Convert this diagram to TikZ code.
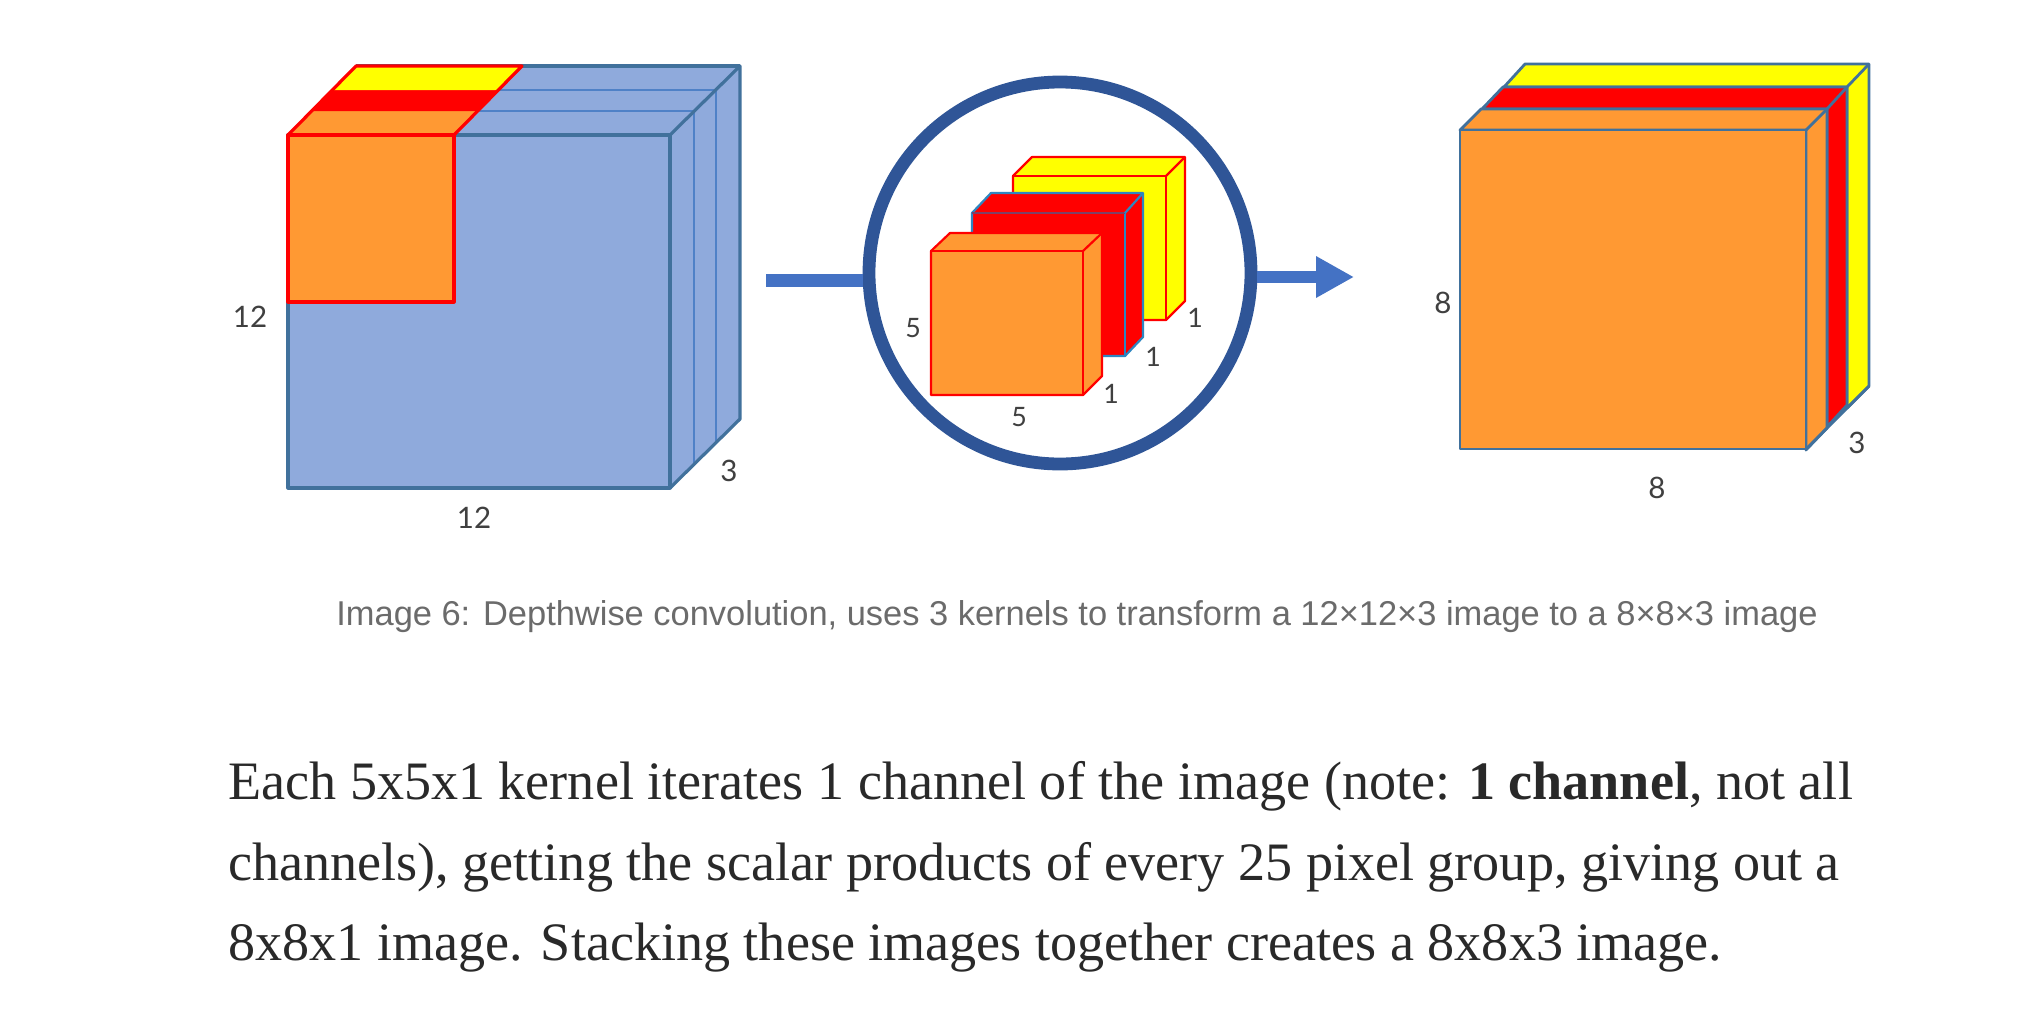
\documentclass[tikz,border=0pt]{standalone}
\usepackage{fontspec}
\setmainfont{Liberation Serif}
\setsansfont{Lato}
\newfontfamily\capfont{Liberation Sans}
\usepackage{xcolor}
\usepackage{tikz}
\usetikzlibrary{arrows.meta,positioning,calc}

\definecolor{cubeblue}{HTML}{8FAADC}
\definecolor{edgeblue}{HTML}{41719C}
\definecolor{layerblue}{HTML}{4F81C7}
\definecolor{kernorange}{HTML}{FF9933}
\definecolor{kernred}{HTML}{FF0000}
\definecolor{kernyellow}{HTML}{FFFF00}
\definecolor{kernedge}{HTML}{2E86C1}
\definecolor{kernseam}{HTML}{7F4066}
\definecolor{ringblue}{HTML}{2F5597}
\definecolor{arrowblue}{HTML}{4472C4}
\definecolor{bodyink}{HTML}{292929}
\definecolor{capink}{HTML}{6B6B6B}

\tikzset{
  dimlabel/.style={font=\sffamily\fontsize{21}{21}\selectfont, text=black!75, inner sep=0pt},
  smalldim/.style={dimlabel, font=\sffamily\fontsize{19}{19}\selectfont},
  capline/.style={font=\capfont\fontsize{24.5}{24.5}\selectfont, text=capink, inner sep=0pt, anchor=base},
  bodyline/.style={font=\fontsize{38.5}{38.5}\selectfont, text=bodyink, inner sep=0pt, anchor=base west},
  thickedge/.style={draw=edgeblue, line width=0.8mm, line join=round},
  thinedge/.style={draw=layerblue, line width=0.45mm},
  rededge/.style={draw=kernred, line width=0.8mm, line join=round},
}

\begin{document}
\begin{tikzpicture}[x=0.25mm,y=-0.25mm]

  \useasboundingbox (0,0) rectangle (2042,1030);
  \fill[white] (0,0) rectangle (2042,1030);

  % ── input image ─────────────────────────────────────────────────────
  \fill[cubeblue] (288,135) -- (356,66) -- (740,66) -- (740,419) -- (670,488) -- (288,488) -- cycle;
  \draw[thinedge] (311,111) -- (694,111) -- (694,464);
  \draw[thinedge] (332,90) -- (716,90) -- (716,441);
  \draw[thickedge] (288,135) rectangle (670,488);
  \draw[thickedge] (670,135) -- (740,66) -- (740,419) -- (670,488);
  \draw[thickedge] (356,66) -- (740,66);

  % the kernel on the three channels
  \fill[kernorange] (288,135) rectangle (454,302);
  \fill[kernorange] (288,135) -- (311,111) -- (477,111) -- (454,135) -- cycle;
  \fill[kernred]    (311,111) -- (332,90) -- (498,90) -- (477,111) -- cycle;
  \fill[kernyellow] (332,90) -- (356,66) -- (522,66) -- (498,90) -- cycle;
  \draw[rededge] (288,135) rectangle (454,302);
  \draw[rededge] (288,135) -- (356,66) -- (522,66) -- (454,135);

  \node[dimlabel] (inHeight) at (250,317) {12};
  \node[dimlabel] (inWidth)  at (474,518) {12};
  \node[dimlabel] (inDepth)  at (729,471) {3};

  % ── arrows and the ring ─────────────────────────────────────────────
  \node[circle, draw=ringblue, line width=3.2mm, minimum size=95.5mm, inner sep=0pt] (ring) at (1060,273) {};
  \coordinate (inStart) at (766,280);
  \coordinate (outTip)  at (1354,277);
  \draw[arrowblue, line width=3.25mm] (inStart) -- (inStart -| ring.west);
  \draw[arrowblue, line width=3mm, -{Triangle[length=9.5mm,width=9.75mm]}] (outTip -| ring.east) -- (outTip);

  % ── the three kernels, back to front ────────────────────────────────
  \foreach \xa/\ya/\xb/\yb/\xc/\yc/\fc/\ec/\sc in {
      1013/176/1166/320/1185/157/kernyellow/kernred/kernred,
      972/213/1125/356/1143/193/kernred/kernedge/kernseam,
      931/251/1083/395/1102/233/kernorange/kernred/kernred} {
    \fill[\fc, draw=\ec, line width=0.55mm, line join=round]
      (\xa,\ya) -- (\xa+19,\yc) -- (\xc,\yc) -- (\xc,\yb-19) -- (\xb,\yb) -- (\xa,\yb) -- cycle;
    \draw[\ec, line width=0.55mm, line join=round] (\xb,\ya) -- (\xb,\yb);
    \draw[\sc, line width=0.7mm] (\xa,\ya) -- (\xb,\ya);
    \draw[\ec, line width=0.55mm] (\xb,\ya) -- (\xc,\yc);
  }

  \node[smalldim] (kernHeight) at (913,328) {5};
  \node[smalldim] (kernWidth)  at (1019,417) {5};
  \node[smalldim] (depthA) at (1111,394) {1};
  \node[smalldim] (depthB) at (1153,357) {1};
  \node[smalldim] (depthC) at (1195,318) {1};

  % ── output image ────────────────────────────────────────────────────
  \foreach \xa/\xb/\ya/\xc/\yc/\yd/\fc in {
      1504/1847/87/1869/64/386/kernyellow,
      1482/1827/109/1847/87/405/kernred,
      1460/1806/130/1827/109/428/kernorange} {
    \fill[\fc, thickedge, line width=0.7mm]
      (\xa,\ya) -- (\xa+21,\yc) -- (\xc,\yc) -- (\xc,\yd) -- (\xb,\yd+22) -- (\xb,\ya) -- cycle;
    \draw[thickedge, line width=0.7mm] (\xb,\ya) -- (\xc,\yc);
  }
  \fill[kernorange, thickedge, line width=0.7mm] (1460,130) rectangle (1806,449);
  \draw[thickedge, line width=0.7mm] (1806,449) -- (1869,386);

  \node[dimlabel] (outHeight) at (1443,303) {8};
  \node[dimlabel] (outWidth)  at (1657,488) {8};
  \node[dimlabel] (outDepth)  at (1857,443) {3};

  % ── caption and paragraph ───────────────────────────────────────────
  \node[capline] (caption) at (1077,625) {Image 6: Depthwise convolution, uses 3 kernels to transform a 12×12×3 image to a 8×8×3 image};
  \node[bodyline] (lineA) at (228,799) {Each 5x5x1 kernel iterates 1 channel of the image (note: \textbf{1 channel}, not all};
  \node[bodyline] (lineB) at (228,880) {channels), getting the scalar products of every 25 pixel group, giving out a};
  \node[bodyline] (lineC) at (228,960) {8x8x1 image. Stacking these images together creates a 8x8x3 image.};

\end{tikzpicture}
\end{document}
